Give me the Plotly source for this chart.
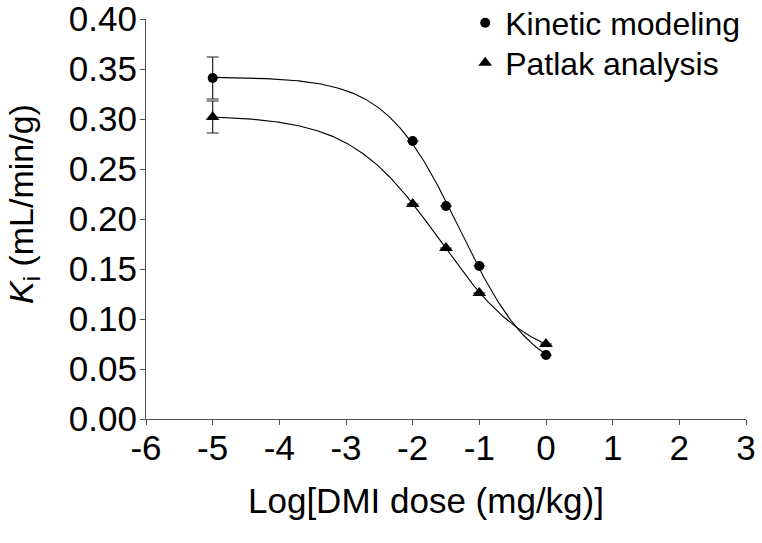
import numpy as np
import plotly.graph_objects as go

# ---- data ----
log_dose = [-5, -2, -1.5, -1, 0]
kinetic = [0.341, 0.278, 0.213, 0.153, 0.064]
kinetic_err = [0.021, None, None, None, None]
patlak = [0.302, 0.215, 0.171, 0.126, 0.075]
patlak_err = [0.016, None, None, None, None]

x_ticks = [-6, -5, -4, -3, -2, -1, 0, 1, 2, 3]
y_ticks = [0.00, 0.05, 0.10, 0.15, 0.20, 0.25, 0.30, 0.35, 0.40]


def fit4pl(x, y):
    """Least-squares 4-parameter logistic fit (grid over EC50/Hill, linear for top/bottom)."""
    x = np.asarray(x, float)
    y = np.asarray(y, float)
    cs = np.linspace(-3.5, 0.5, 801)
    hs = np.linspace(0.2, 3.0, 561)
    C, H = np.meshgrid(cs, hs, indexing="ij")
    f = 1.0 / (1.0 + 10 ** ((x[None, None, :] - C[..., None]) * H[..., None]))
    g = 1.0 - f
    a11 = (g * g).sum(-1)
    a12 = (g * f).sum(-1)
    a22 = (f * f).sum(-1)
    b1 = (g * y).sum(-1)
    b2 = (f * y).sum(-1)
    det = a11 * a22 - a12 ** 2
    bot = (a22 * b1 - a12 * b2) / det
    top = (a11 * b2 - a12 * b1) / det
    res = ((bot[..., None] * g + top[..., None] * f - y) ** 2).sum(-1)
    res = np.where((bot > -0.05) & (bot < 0.2), res, np.inf)
    i = np.unravel_index(np.nanargmin(res), res.shape)
    c, h, b, t = C[i], H[i], bot[i], top[i]
    return lambda xx: b + (t - b) / (1.0 + 10 ** ((np.asarray(xx) - c) * h))


xx = np.linspace(min(log_dose), max(log_dose), 300)
kin_fit = fit4pl(log_dose, kinetic)
pat_fit = fit4pl(log_dose, patlak)

FONT = "Arial, 'Liberation Sans', Helvetica, sans-serif"
AX = "#505050"
W, H = 762, 543

fig = go.Figure()
fig.add_trace(go.Scatter(x=xx, y=kin_fit(xx), mode="lines",
                         line=dict(color="black", width=1.1), showlegend=False, hoverinfo="skip"))
fig.add_trace(go.Scatter(x=xx, y=pat_fit(xx), mode="lines",
                         line=dict(color="black", width=1.1), showlegend=False, hoverinfo="skip"))
fig.add_trace(go.Scatter(
    x=log_dose, y=kinetic, mode="markers", name="Kinetic modeling", legend="legend",
    marker=dict(symbol="circle", size=10, color="black"),
    error_y=dict(type="data", array=kinetic_err, visible=True, color="#222222", thickness=1.2, width=6)))
fig.add_trace(go.Scatter(
    x=log_dose, y=patlak, mode="markers", name="Patlak analysis", legend="legend2",
    marker=dict(symbol="triangle-up", size=12, color="black"),
    error_y=dict(type="data", array=patlak_err, visible=True, color="#222222", thickness=1.2, width=6)))

leg_common = dict(xref="paper", x=0.532, xanchor="left", yref="container", yanchor="middle",
                  bgcolor="rgba(0,0,0,0)", font=dict(size=32), itemwidth=30)

fig.update_layout(
    width=W, height=H,
    margin=dict(l=146, r=16, t=19, b=124, autoexpand=False),
    paper_bgcolor="white", plot_bgcolor="white",
    font=dict(family=FONT, size=35, color="black"),
    showlegend=True,
    legend=dict(y=1 - 23 / H, **leg_common),
    legend2=dict(y=1 - 63 / H, **leg_common),
    xaxis=dict(range=[-6, 3], tickvals=x_ticks, ticktext=[str(v) for v in x_ticks],
               showgrid=False, zeroline=False, showline=True, linecolor=AX, linewidth=1.2,
               ticks="outside", ticklen=5, tickcolor=AX, tickwidth=1.2, automargin=False,
               ticklabeloverflow="allow", ticklabelstandoff=-7),
    yaxis=dict(range=[0, 0.4], tickvals=y_ticks, ticktext=[f"{v:.2f}" for v in y_ticks],
               showgrid=False, zeroline=False, showline=True, linecolor=AX, linewidth=1.2,
               ticks="outside", ticklen=5, tickcolor=AX, tickwidth=1.2, ticklabelstandoff=-4,
               automargin=False, ticklabeloverflow="allow"),
    annotations=[
        dict(text="<i>K</i><sub>i</sub> (mL/min/g)", textangle=-90,
             xref="paper", yref="paper", x=-0.205, y=0.5375, xanchor="center", yanchor="middle",
             showarrow=False, font=dict(size=34)),
        dict(text="Log[DMI dose (mg/kg)]",
             xref="paper", yref="paper", x=0.467, y=-0.2025, xanchor="center", yanchor="middle",
             showarrow=False, font=dict(size=35)),
    ],
)

fig.write_html("out.html", config={"displayModeBar": False},
               post_script="document.body.style.margin='0px';")
